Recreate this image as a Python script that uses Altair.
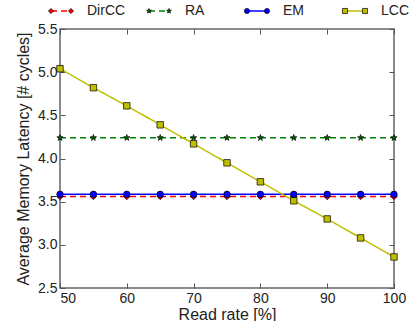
import altair as alt
import pandas as pd

# ---- data ----
read_rate = [50, 55, 60, 65, 70, 75, 80, 85, 90, 95, 100]
dircc = [3.56, 3.56, 3.56, 3.56, 3.56, 3.56, 3.56, 3.56, 3.56, 3.56, 3.56]
ra = [4.24, 4.24, 4.24, 4.24, 4.24, 4.24, 4.24, 4.24, 4.24, 4.24, 4.24]
em = [3.585, 3.585, 3.585, 3.585, 3.585, 3.585, 3.585, 3.585, 3.585, 3.585, 3.585]
lcc = [5.04, 4.82, 4.61, 4.39, 4.17, 3.95, 3.73, 3.51, 3.30, 3.08, 2.86]

series_names = ["DirCC", "RA", "EM", "LCC"]
line_colors = ["#ff0000", "#008000", "#0000ff", "#bfbf00"]
marker_fills = ["#ff0000", "#006400", "#0000ff", "#bfbf00"]
dashes = [[6, 4], [6, 4], [1, 0], [1, 0]]
star = ("M0,-1L0.235,-0.324L0.951,-0.309L0.380,0.124L0.588,0.809L0,0.4"
        "L-0.588,0.809L-0.380,0.124L-0.951,-0.309L-0.235,-0.324Z")
shapes = ["diamond", star, "circle", "square"]

x_ticks = [50, 60, 70, 80, 90, 100]
y_ticks = [2.5, 3.0, 3.5, 4.0, 4.5, 5.0, 5.5]

rows = []
for name, vals in zip(series_names, [dircc, ra, em, lcc]):
    for r, v in zip(read_rate, vals):
        rows.append({"series": name, "rate": r, "value": v})
df = pd.DataFrame(rows)
legend_df = pd.DataFrame({"series": series_names})

W, H = 334, 259
FONT = "Liberation Sans"
TICK_COLOR = "#555555"

xs = alt.Scale(domain=[50, 100], nice=False, zero=False)
ys = alt.Scale(domain=[2.5, 5.5], nice=False, zero=False)
color_scale = alt.Scale(domain=series_names, range=line_colors)
fill_scale = alt.Scale(domain=series_names, range=marker_fills)
dash_scale = alt.Scale(domain=series_names, range=dashes)
shape_scale = alt.Scale(domain=series_names, range=shapes)

base = alt.Chart(df)

# lines + main labelled axes
lines = base.mark_line(strokeWidth=1.5).encode(
    x=alt.X("rate:Q", scale=xs,
            axis=alt.Axis(values=x_ticks, format="d", title="Read rate [%]",
                          ticks=False, domain=False, labelPadding=3,
                          titlePadding=1, labelFlush=False,
                          labelAlign={"condition": {"test": "datum.value == 50",
                                                    "value": "left"},
                                      "value": "center"})),
    y=alt.Y("value:Q", scale=ys,
            axis=alt.Axis(values=y_ticks, format=".1f",
                          title="Average Memory Latency [# cycles]",
                          ticks=False, domain=False, labelPadding=3,
                          titlePadding=6)),
    color=alt.Color("series:N", scale=color_scale, legend=None),
    strokeDash=alt.StrokeDash("series:N", scale=dash_scale, legend=None),
    detail="series:N",
)

# markers + inward ticks on bottom and left edges
points = base.mark_point(filled=True, stroke="black", strokeWidth=0.7,
                         opacity=1, size=42).encode(
    x=alt.X("rate:Q", scale=xs,
            axis=alt.Axis(orient="top", offset=-H, labels=False, domain=False,
                          title=None, values=x_ticks, tickSize=5,
                          tickColor=TICK_COLOR)),
    y=alt.Y("value:Q", scale=ys,
            axis=alt.Axis(orient="right", offset=-W, labels=False, domain=False,
                          title=None, values=y_ticks, tickSize=5,
                          tickColor=TICK_COLOR)),
    fill=alt.Fill("series:N", scale=fill_scale, legend=None),
    shape=alt.Shape("series:N", scale=shape_scale, legend=None),
)

# invisible layer carrying inward ticks on top and right edges
ghost = base.mark_point(opacity=0).encode(
    x=alt.X("rate:Q", scale=xs,
            axis=alt.Axis(orient="bottom", offset=-H, labels=False, domain=False,
                          title=None, values=x_ticks, tickSize=5,
                          tickColor=TICK_COLOR)),
    y=alt.Y("value:Q", scale=ys,
            axis=alt.Axis(orient="left", offset=-W, labels=False, domain=False,
                          title=None, values=y_ticks, tickSize=5,
                          tickColor=TICK_COLOR)),
)

# custom legend above the plot
lx = alt.Scale(type="point", domain=series_names, range=[-9, 285], padding=0)
LY = -18
lbase = alt.Chart(legend_df)
leg_rule = lbase.mark_rule(strokeWidth=1.5, x2Offset=20).encode(
    x=alt.X("series:N", scale=lx, axis=None),
    x2=alt.X2("series"),
    y=alt.value(LY),
    color=alt.Color("series:N", scale=color_scale, legend=None),
    strokeDash=alt.StrokeDash("series:N", scale=dash_scale, legend=None),
)
leg_p1 = lbase.mark_point(filled=True, stroke="black", strokeWidth=0.7,
                          opacity=1, size=26).encode(
    x=alt.X("series:N", scale=lx, axis=None),
    y=alt.value(LY),
    fill=alt.Fill("series:N", scale=fill_scale, legend=None),
    shape=alt.Shape("series:N", scale=shape_scale, legend=None),
)
leg_p2 = lbase.mark_point(filled=True, stroke="black", strokeWidth=0.7,
                          opacity=1, size=26, xOffset=20).encode(
    x=alt.X("series:N", scale=lx, axis=None),
    y=alt.value(LY),
    fill=alt.Fill("series:N", scale=fill_scale, legend=None),
    shape=alt.Shape("series:N", scale=shape_scale, legend=None),
)
leg_text = lbase.mark_text(align="left", baseline="middle", dx=36,
                           font=FONT, fontSize=14, color="#222222").encode(
    x=alt.X("series:N", scale=lx, axis=None),
    y=alt.value(LY),
    text="series:N",
)

chart = (
    alt.layer(lines, points, ghost, leg_rule, leg_p1, leg_p2, leg_text)
    .resolve_scale(x="independent")
    .resolve_axis(x="independent", y="independent")
    .properties(width=W, height=H,
                padding={"left": 15, "top": 4, "right": 0, "bottom": 2},
                background="white")
    .configure_view(stroke="#666666", strokeWidth=1.5)
    .configure_axis(labelFont=FONT, labelFontSize=14, labelColor="#222222",
                    titleFont=FONT, titleFontSize=16, titleColor="#222222",
                    titleFontWeight="normal", grid=False)
)

chart.save("out.html", embed_options={"renderer": "svg", "actions": False})
